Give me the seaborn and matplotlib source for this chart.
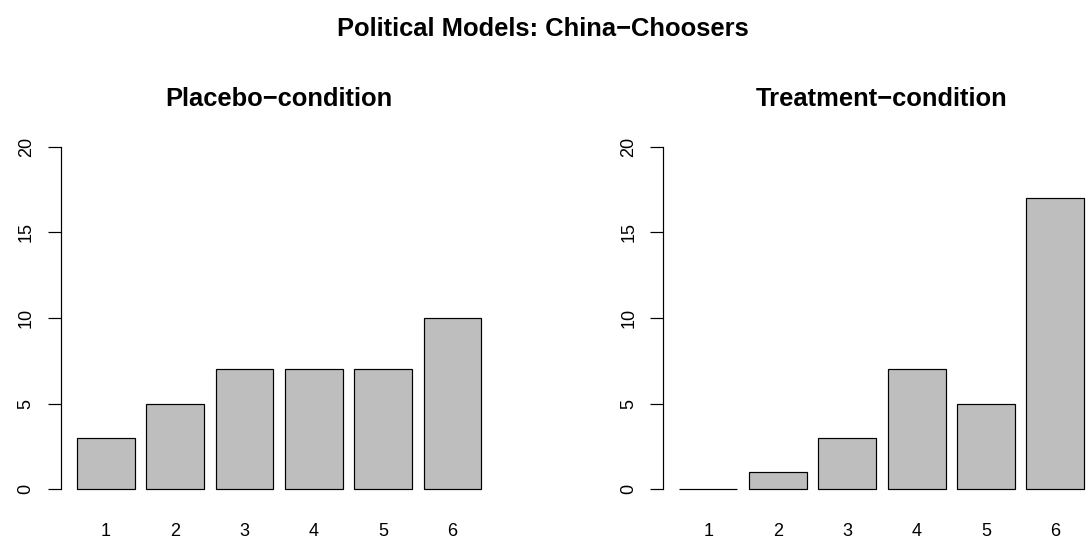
import matplotlib
matplotlib.use("Agg")
import matplotlib.pyplot as plt
import seaborn as sns
import pandas as pd

categories = ["1", "2", "3", "4", "5", "6"]
placebo_counts = [3, 5, 7, 7, 7, 10]
treatment_counts = [0, 1, 3, 7, 5, 17]
y_ticks = [0, 5, 10, 15, 20]
main_title = "Political Models: China\u2212Choosers"
panel_titles = ["Placebo\u2212condition", "Treatment\u2212condition"]

sns.set_style("white")
plt.rcParams["font.family"] = ["Liberation Sans", "DejaVu Sans"]
plt.rcParams["text.color"] = "black"
plt.rcParams["xtick.color"] = "black"
plt.rcParams["ytick.color"] = "black"
plt.rcParams["axes.labelcolor"] = "black"

W, H = 1086, 544
fig = plt.figure(figsize=(W / 72, H / 72), dpi=72)

def px_box(left, right, top, bottom):
    return [left / W, 1 - bottom / H, (right - left) / W, (bottom - top) / H]

boxes = [px_box(60.7, 497.5, 133, 503), px_box(663.3, 1100.5, 133, 503)]
centers = [279, 882]

for box, vals, title, cx in zip(boxes, [placebo_counts, treatment_counts], panel_titles, centers):
    ax = fig.add_axes(box)
    df = pd.DataFrame({"cat": categories, "n": vals})
    sns.barplot(data=df, x="cat", y="n", order=categories, color="#BEBEBE",
                saturation=1, edgecolor="black", linewidth=1.2, width=1 / 1.2, ax=ax)
    ax.set_xlim(-0.65, 5.65)
    ax.set_ylim(-0.8, 20.8)
    ax.set_xlabel("")
    ax.set_ylabel("")
    for s in ["top", "right", "bottom"]:
        ax.spines[s].set_visible(False)
    ax.spines["left"].set_bounds(0, 20)
    ax.spines["left"].set_linewidth(1.2)
    ax.spines["left"].set_color("black")
    ax.set_yticks(y_ticks)
    ax.set_yticklabels([str(t) for t in y_ticks])
    ax.tick_params(axis="y", length=13, width=1.2, color="black", pad=13,
                   labelsize=18, labelrotation=90, left=True, labelcolor="black")
    for lab in ax.get_yticklabels():
        lab.set_va("center")
    ax.tick_params(axis="x", length=0, pad=20, labelsize=18, labelcolor="black")
    fig.text(cx / W, 1 - 106 / H, title, ha="center", va="baseline",
             fontsize=25.5, fontweight="bold", color="black")

fig.text(543 / W, 1 - 36 / H, main_title, ha="center", va="baseline",
         fontsize=25.5, fontweight="bold", color="black")

fig.savefig("out.png", dpi=72, facecolor="white")
